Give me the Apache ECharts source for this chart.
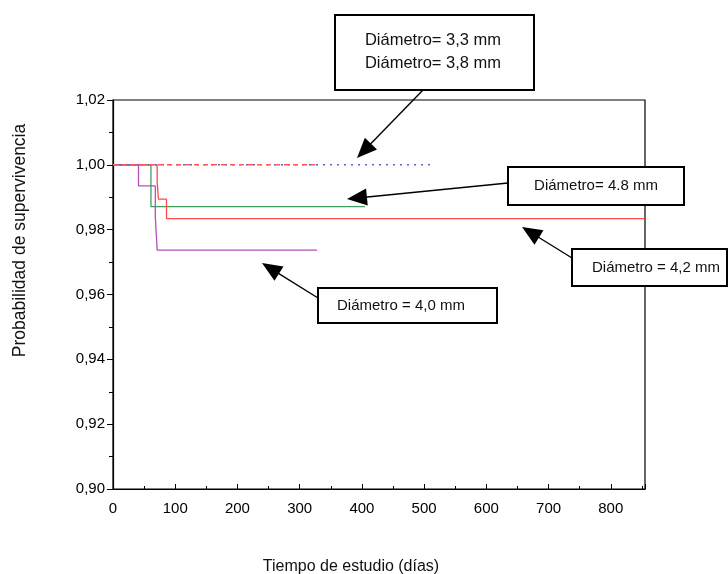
<!DOCTYPE html>
<html>
<head>
<meta charset="utf-8">
<script src="https://cdn.jsdelivr.net/npm/echarts@6/dist/echarts.min.js"></script>
<style>html,body{margin:0;padding:0;background:#fff;}#c{width:728px;height:574px;}</style>
</head>
<body>
<div id="c"></div>
<script>
// Kaplan-Meier step points: [días, probabilidad]
const d33 = [[0, 1.0], [512, 1.0]];
const d38 = [[0, 1.0], [325, 1.0]];
const d40 = [[0, 1.0], [41, 0.9935], [68, 0.984], [71, 0.9737], [328, 0.9737]];
const d42 = [[0, 1.0], [71, 0.9947], [73, 0.9894], [86, 0.9834], [855, 0.9834]];
const d48 = [[0, 1.0], [61, 0.9871], [405, 0.9871]];
const xTitle = 'Tiempo de estudio (días)';
const yTitle = 'Probabilidad de supervivencia';
const labels = {
  b1: ['Diámetro= 3,3 mm', 'Diámetro= 3,8 mm'],
  b2: 'Diámetro= 4.8 mm',
  b3: 'Diámetro = 4,2 mm',
  b4: 'Diámetro = 4,0 mm'
};

const FONT = 'Liberation Sans, Arial, sans-serif';

function arrow(x1, y1, x2, y2) {
  const dx = x2 - x1, dy = y2 - y1;
  const L = Math.sqrt(dx * dx + dy * dy);
  const ux = dx / L, uy = dy / L;
  const hl = 20, hw = 8.5;
  const bx = x2 - ux * hl, by = y2 - uy * hl;
  const px = -uy, py = ux;
  return [
    { type: 'line', shape: { x1: x1, y1: y1, x2: bx + ux * 2, y2: by + uy * 2 }, style: { stroke: '#000', lineWidth: 1.4 }, z: 100 },
    { type: 'polygon', shape: { points: [[x2, y2], [bx + px * hw, by + py * hw], [bx - px * hw, by - py * hw]] }, style: { fill: '#000' }, z: 100 }
  ];
}
function box(x, y, w, h, lines, cx, cy, lh, fs) {
  const out = [{ type: 'rect', shape: { x: x, y: y, width: w, height: h }, style: { fill: '#fff', stroke: '#000', lineWidth: 2 }, z: 101 }];
  lines.forEach(function (t, i) {
    out.push({ type: 'text', x: cx, y: cy + i * lh, style: { text: t, fill: '#111', font: fs + 'px ' + FONT, textAlign: 'center', textVerticalAlign: 'middle' }, z: 102 });
  });
  return out;
}

const chart = echarts.init(document.getElementById('c'));
const lineBase = { type: 'line', step: 'end', symbol: 'none', silent: true };
chart.setOption({
  animation: false,
  backgroundColor: '#fff',
  grid: { left: 113, top: 100, right: 83, bottom: 85, show: true, borderColor: '#000', borderWidth: 1.2,
    backgroundColor: 'transparent', containLabel: false, outerBoundsMode: 'none' },
  xAxis: {
    type: 'value', min: 0, max: 855, interval: 100,
    name: xTitle, nameLocation: 'middle', nameGap: 70,
    nameTextStyle: { fontSize: 16, fontFamily: FONT, color: '#111', padding: [0, 0, 0, -56] },
    axisLine: { show: true, lineStyle: { color: '#000', width: 1.2 } },
    axisTick: { show: true, inside: true, length: 5, lineStyle: { color: '#000' } },
    minorTick: { show: true, splitNumber: 2, length: 3, lineStyle: { color: '#000' } },
    axisLabel: { fontSize: 15, fontFamily: FONT, color: '#000', margin: 12, showMaxLabel: false,
      formatter: function (v) { return v % 100 === 0 ? String(v) : ''; } },
    splitLine: { show: false }
  },
  yAxis: {
    type: 'value', min: 0.90, max: 1.02, interval: 0.02,
    name: yTitle, nameLocation: 'middle', nameGap: 84, nameRotate: 90,
    nameTextStyle: { fontSize: 17.5, fontFamily: FONT, color: '#111', padding: [0, 0, 0, 108] },
    axisLine: { show: true, lineStyle: { color: '#000', width: 1.2 } },
    axisTick: { show: true, inside: false, length: 6, lineStyle: { color: '#000' } },
    minorTick: { show: true, splitNumber: 2, length: 4, lineStyle: { color: '#000' } },
    axisLabel: { fontSize: 15, fontFamily: FONT, color: '#000', margin: 8,
      formatter: function (v) { return v.toFixed(2).replace('.', ','); } },
    splitLine: { show: false }
  },
  series: [
    Object.assign({}, lineBase, { name: '3,3', data: d33, lineStyle: { color: '#5a68c0', width: 1.5, type: [2, 5] }, z: 3 }),
    Object.assign({}, lineBase, { name: '4,8', data: d48, lineStyle: { color: '#3f9e60', width: 1.3 }, z: 2 }),
    Object.assign({}, lineBase, { name: '4,2', data: d42, lineStyle: { color: '#ff4a4a', width: 1.3 }, z: 2 }),
    Object.assign({}, lineBase, { name: '4,0', data: d40, lineStyle: { color: '#b450b8', width: 1.3 }, z: 2 }),
    Object.assign({}, lineBase, { name: '3,8', data: d38, lineStyle: { color: '#ff5a5a', width: 1.5, type: [5, 4] }, z: 4 })
  ],
  graphic: [].concat(
    arrow(423, 90, 357, 158),
    arrow(508, 183, 347, 199),
    arrow(572, 258, 522, 227),
    arrow(318, 298, 262, 263),
    box(335, 15, 199, 75, labels.b1, 433, 40, 23, 16.5),
    box(508, 167, 176, 38, [labels.b2], 596, 186, 0, 15),
    box(572, 249, 155, 37, [labels.b3], 656, 268, 0, 15),
    box(318, 288, 179, 35, [labels.b4], 401, 306, 0, 15)
  )
});
</script>
</body>
</html>
